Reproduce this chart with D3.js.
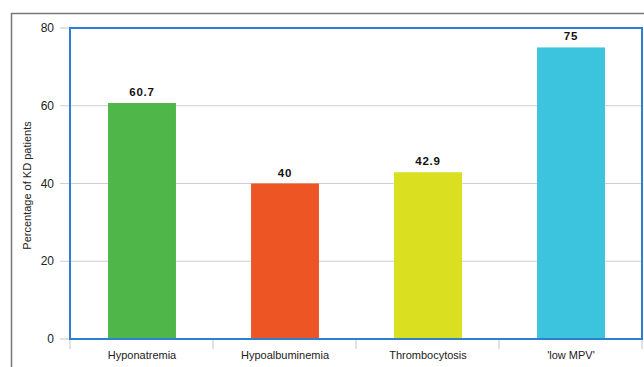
<!DOCTYPE html>
<html>
<head>
<meta charset="utf-8">
<script src="https://cdn.jsdelivr.net/npm/d3@7"></script>
<style>
  html, body { margin: 0; padding: 0; background: #fff; }
  svg { display: block; font-family: "Liberation Sans", Arial, sans-serif; }
</style>
</head>
<body>
<svg id="chart" width="644" height="367"></svg>
<script>
// KD patient lab findings
const categories = ['Hyponatremia', 'Hypoalbuminemia', 'Thrombocytosis', "'low MPV'"];
const percentages = [60.7, 40, 42.9, 75];
const valueLabels = ['60.7', '40', '42.9', '75'];
const barColors = ['#4fb64a', '#ee5525', '#dadf1f', '#3cc4de'];
const yTicks = [0, 20, 40, 60, 80];

const svg = d3.select('#chart');
const plot = { left: 70, top: 28, right: 642, bottom: 339 };

// outer frame, runs off the right and bottom edges
svg.append('path')
  .attr('d', 'M11.5,380 V13.5 H660')
  .attr('fill', 'none').attr('stroke', '#777').attr('stroke-width', 1.5);

const x = d3.scaleBand().domain(categories).range([plot.left, plot.right]).padding(0);
const y = d3.scaleLinear().domain([0, 80]).range([plot.bottom, plot.top]);

// gridlines with stubs left of the axis
svg.append('g').selectAll('line').data(yTicks.slice(1, 4)).join('line')
  .attr('x1', plot.left - 10).attr('x2', plot.right)
  .attr('y1', d => y(d)).attr('y2', d => y(d))
  .attr('stroke', '#cfcfcf').attr('stroke-width', 1.2);
svg.append('g').selectAll('line').data([0, 80]).join('line')
  .attr('x1', plot.left - 10).attr('x2', plot.left)
  .attr('y1', d => y(d)).attr('y2', d => y(d))
  .attr('stroke', '#cfcfcf').attr('stroke-width', 1.2);

svg.append('g').selectAll('text').data(yTicks).join('text')
  .attr('x', plot.left - 16).attr('y', d => y(d) + 4)
  .attr('text-anchor', 'end').attr('font-size', 12).attr('fill', '#222')
  .text(d => d);

svg.append('text')
  .attr('transform', `translate(31,${(plot.top + plot.bottom) / 2 + 2}) rotate(-90)`)
  .attr('text-anchor', 'middle').attr('font-size', 11).attr('fill', '#222')
  .text('Percentage of KD patients');

// category separator ticks below the axis
const bounds = categories.map(c => x(c)).concat([plot.right]);
svg.append('g').selectAll('line').data(bounds).join('line')
  .attr('x1', d => d).attr('x2', d => d)
  .attr('y1', plot.bottom).attr('y2', plot.bottom + 10)
  .attr('stroke', '#cfcfcf').attr('stroke-width', 1.2);

const barW = x.bandwidth() * 0.475;
svg.append('g').selectAll('rect').data(categories).join('rect')
  .attr('x', c => x(c) + (x.bandwidth() - barW) / 2 + 0.5)
  .attr('width', barW)
  .attr('y', (c, i) => y(percentages[i]))
  .attr('height', (c, i) => plot.bottom - y(percentages[i]))
  .attr('fill', (c, i) => barColors[i]);

svg.append('g').selectAll('text').data(categories).join('text')
  .attr('x', c => x(c) + x.bandwidth() / 2 + 0.5)
  .attr('y', (c, i) => y(percentages[i]) - 7)
  .attr('text-anchor', 'middle').attr('font-size', 11.5).attr('font-weight', 'bold')
  .attr('letter-spacing', '0.8px').attr('fill', '#111')
  .text((c, i) => valueLabels[i]);

svg.append('g').selectAll('text').data(categories).join('text')
  .attr('x', c => x(c) + x.bandwidth() / 2 + 0.5)
  .attr('y', plot.bottom + 20)
  .attr('text-anchor', 'middle').attr('font-size', 11).attr('fill', '#222')
  .text(c => c);

// blue plot border
svg.append('rect')
  .attr('x', plot.left).attr('y', plot.top)
  .attr('width', plot.right - plot.left).attr('height', plot.bottom - plot.top)
  .attr('fill', 'none').attr('stroke', '#2f7fd0').attr('stroke-width', 2);
</script>
</body>
</html>
